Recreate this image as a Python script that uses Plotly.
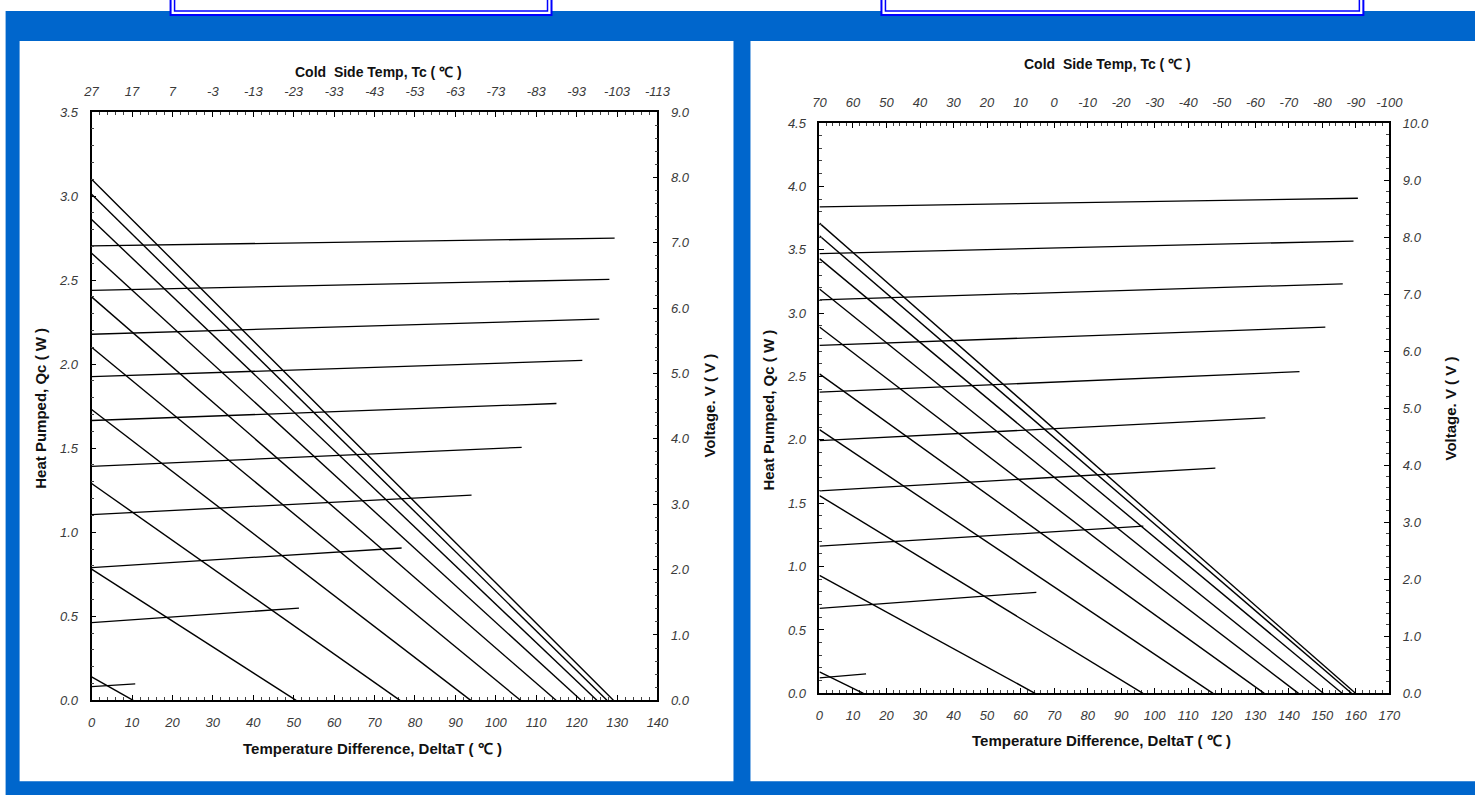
import plotly.graph_objects as go

# Figure is made a little larger than the window so that it covers the whole photographed area.
W, H = 1500, 815

# ---------------- data ----------------
# Left chart (Th = 27 C)
left_th = 27
left_dt_ticks = list(range(0, 141, 10))
left_qmax = [3.10, 3.01, 2.86, 2.66, 2.40, 2.10, 1.73, 1.29, 0.78, 0.14]
left_dtmax = [129.1, 127.5, 125.0, 121.1, 114.9, 106.1, 93.8, 76.3, 50.6, 10.3]
left_v_start = [6.95, 6.27, 5.60, 4.95, 4.28, 3.58, 2.84, 2.03, 1.19, 0.21]
left_v_end = [7.07, 6.44, 5.83, 5.20, 4.54, 3.87, 3.14, 2.33, 1.41, 0.25]
left_v_dt_end = [129.4, 128.1, 125.6, 121.4, 115.0, 106.4, 94.0, 76.7, 51.3, 10.8]

# Right chart (Th = 70 C)
right_th = 70
right_dt_ticks = list(range(0, 171, 10))
right_qmax = [3.71, 3.61, 3.43, 3.19, 2.89, 2.52, 2.08, 1.56, 0.93, 0.17]
right_dtmax = [159.9, 158.7, 155.9, 150.3, 142.9, 132.7, 117.4, 96.5, 64.3, 13.1]
right_v_start = [8.53, 7.71, 6.90, 6.10, 5.28, 4.43, 3.55, 2.58, 1.49, 0.27]
right_v_end = [8.68, 7.93, 7.18, 6.42, 5.64, 4.83, 3.95, 2.93, 1.77, 0.34]
right_v_dt_end = [160.6, 159.3, 156.1, 150.9, 143.2, 133.0, 118.1, 96.6, 64.7, 13.9]

# ---------------- helpers: map a target screen pixel to paper fraction ----------------
SX, CX = 0.9855, 7.4
SY, CY = 0.981, 7.1

def px(x):
    return ((x - CX) / SX) / W

def py(y):
    return 1 - ((y - CY) / SY) / H

BLUE = "#0066CC"
BOX_BLUE = "#0000FF"
TICK_FONT = dict(family="Liberation Sans, Arial", size=13, color="#3a3a3a", style="italic")
TITLE_FONT = dict(family="Liberation Sans, Arial", size=15, color="#111111", weight="bold")
TOP_TITLE_FONT = dict(family="Liberation Sans, Arial", size=14, color="#111111", weight="bold")

fig = go.Figure()

def add_chart(qmax, dtmax, v0, v1, vdt, xa, xa_top, ya, ya2):
    # Qc lines on the top (cold-side) axis, which shares the DeltaT range
    for q, d in zip(qmax, dtmax):
        fig.add_trace(go.Scatter(x=[0, d], y=[q, 0], mode="lines",
                                 line=dict(color="black", width=1.4),
                                 xaxis=xa_top, yaxis=ya, showlegend=False, hoverinfo="skip"))
    # Voltage lines on the bottom axis / right axis
    for a, b, d in zip(v0, v1, vdt):
        fig.add_trace(go.Scatter(x=[0, d], y=[a, b], mode="lines",
                                 line=dict(color="black", width=1.3),
                                 xaxis=xa, yaxis=ya2, showlegend=False, hoverinfo="skip"))

add_chart(left_qmax, left_dtmax, left_v_start, left_v_end, left_v_dt_end, "x", "x2", "y", "y2")
add_chart(right_qmax, right_dtmax, right_v_start, right_v_end, right_v_dt_end, "x3", "x4", "y3", "y4")

def axis_common():
    return dict(showline=True, linecolor="black", linewidth=1.8, mirror=False,
                showgrid=False, zeroline=False, ticks="inside", ticklen=5,
                tickcolor="black", tickwidth=1, tickfont=TICK_FONT,
                ticklabelstandoff=9)

def minor(d):
    return dict(dtick=d, ticks="inside", ticklen=3, tickcolor="#444", tickwidth=1)

# Plot-area positions (reference pixels)
Lx = [px(91), px(657)]
Ly = [py(700), py(112)]
Rx = [px(819), px(1389)]
Ry = [py(693), py(123)]

fig.update_layout(
    width=W, height=H,
    margin=dict(l=0, r=0, t=0, b=0),
    paper_bgcolor="white", plot_bgcolor="rgba(0,0,0,0)",
    xaxis=dict(domain=Lx, range=[0, 140], anchor="y", tickvals=left_dt_ticks,
               minor=minor(2), **axis_common()),
    xaxis2=dict(domain=Lx, overlaying="x", side="top", anchor="y", range=[0, 140],
                tickvals=left_dt_ticks, ticktext=[str(left_th - t) for t in left_dt_ticks],
                minor=minor(2), **axis_common()),
    yaxis=dict(domain=Ly, range=[0, 3.5], anchor="x", dtick=0.5, tickformat=".1f",
               minor=minor(0.1), **axis_common()),
    yaxis2=dict(domain=Ly, overlaying="y", side="right", anchor="x", range=[0, 9], dtick=1,
                tickformat=".1f", minor=minor(0.2), **axis_common()),
    xaxis3=dict(domain=Rx, range=[0, 170], anchor="y3", tickvals=right_dt_ticks,
                minor=minor(2), **axis_common()),
    xaxis4=dict(domain=Rx, overlaying="x3", side="top", anchor="y3", range=[0, 170],
                tickvals=right_dt_ticks, ticktext=[str(right_th - t) for t in right_dt_ticks],
                minor=minor(2), **axis_common()),
    yaxis3=dict(domain=Ry, range=[0, 4.5], anchor="x3", dtick=0.5, tickformat=".1f",
                minor=minor(0.1), **axis_common()),
    yaxis4=dict(domain=Ry, overlaying="y3", side="right", anchor="x3", range=[0, 10], dtick=1,
                tickformat=".1f", minor=minor(0.2), **axis_common()),
)

# Background shapes: blue frame, white panels, header boxes
shapes = [
    dict(type="rect", xref="paper", yref="paper", x0=px(5), x1=px(1520), y0=py(840), y1=py(11),
         fillcolor=BLUE, line=dict(width=0), layer="below"),
    dict(type="rect", xref="paper", yref="paper", x0=px(19), x1=px(733), y0=py(781), y1=py(41),
         fillcolor="white", line=dict(width=0), layer="below"),
    dict(type="rect", xref="paper", yref="paper", x0=px(750), x1=px(1520), y0=py(781), y1=py(41),
         fillcolor="white", line=dict(width=0), layer="below"),
]
for bx0, bx1 in [(170, 551), (881, 1363)]:
    shapes.append(dict(type="rect", xref="paper", yref="paper", x0=px(bx0), x1=px(bx1),
                       y0=py(15), y1=py(-20), fillcolor="white",
                       line=dict(color=BOX_BLUE, width=2), layer="below"))
    shapes.append(dict(type="rect", xref="paper", yref="paper", x0=px(bx0 + 4), x1=px(bx1 - 4),
                       y0=py(11), y1=py(-20), fillcolor="white",
                       line=dict(color=BOX_BLUE, width=1.5), layer="below"))
fig.update_layout(shapes=shapes)

# Axis titles as annotations
def ann(text, x, y, angle=0, font=TITLE_FONT):
    fig.add_annotation(text=text, x=px(x), y=py(y), xref="paper", yref="paper",
                       showarrow=False, textangle=angle, font=font,
                       xanchor="center", yanchor="middle")

ann("Cold  Side Temp, Tc ( ℃ )", 378, 72, font=TOP_TITLE_FONT)
ann("Temperature Difference, DeltaT ( ℃ )", 372, 748)
ann("Heat Pumped, Qc ( W )", 40, 408, -90)
ann("Voltage. V ( V )", 709, 405, -90)

ann("Cold  Side Temp, Tc ( ℃ )", 1107, 64, font=TOP_TITLE_FONT)
ann("Temperature Difference, DeltaT ( ℃ )", 1101, 740)
ann("Heat Pumped, Qc ( W )", 768, 410, -90)
ann("Voltage. V ( V )", 1450, 408, -90)

post = (
    "document.documentElement.style.margin='0';"
    "document.documentElement.style.padding='0';"
    "document.documentElement.style.overflow='hidden';"
    "document.documentElement.style.background='#ffffff';"
    "document.body.style.margin='0';"
    "document.body.style.padding='0';"
    "document.body.style.overflow='hidden';"
    "document.body.style.background='transparent';"
)
fig.write_html("out.html", post_script=post, config={"displayModeBar": False})
